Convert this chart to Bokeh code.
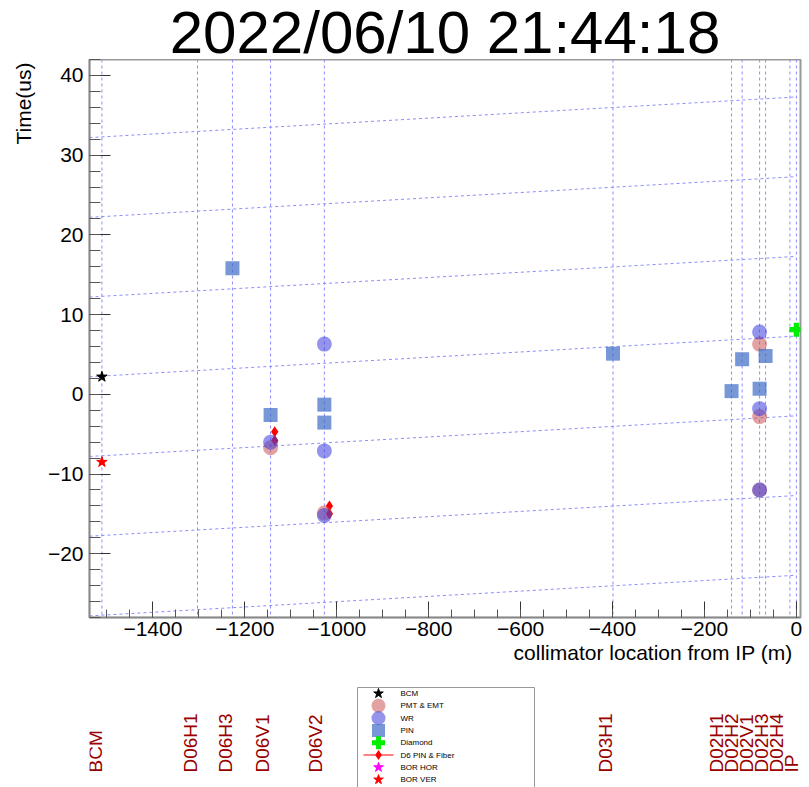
import numpy as np
from bokeh.plotting import figure
from bokeh.models import Range1d, Span, SingleIntervalTicker, Title, LabelSet, ColumnDataSource
from bokeh.layouts import column
from bokeh.embed import file_html
from bokeh.resources import INLINE
from bokeh.core.properties import value

FONT = "Liberation Sans"
title_text = "2022/06/10 21:44:18"
x_title = "collimator location from IP (m)"
y_title = "Time(us)"

# collimator positions (m) and their labels
coll_names = ["BCM", "D06H1", "D06H3", "D06V1", "D06V2", "D03H1",
              "D02H1", "D02H2", "D02V1", "D02H3", "D02H4", "IP"]
coll_x = [-1511, -1303, -1227, -1144, -1027, -399, -141, -118, -80, -67, -14, 0]
# where the (spread-out) names are written along x
label_x = [-1525, -1318, -1242, -1162, -1046, -415, -174, -141, -108, -76, -43, -11]

# series
bcm_x = [-1511]
bcm_y = [2.2]
pmt_x = [-1144, -1027, -80, -80, -80]
pmt_y = [-6.7, -14.9, 6.3, -2.8, -12.0]
wr_x = [-1144, -1027, -1027, -1027, -80, -80, -80]
wr_y = [-6.0, 6.3, -7.1, -15.2, 7.8, -1.8, -12.0]
pin_x = [-1227, -1144, -1027, -1027, -399, -141, -118, -80, -67]
pin_y = [15.8, -2.6, -1.3, -3.55, 5.1, 0.4, 4.4, 0.7, 4.8]
dia_x = [0]
dia_y = [8.1]
d6_x = [-1135, -1135, -1016, -1016]
d6_y = [-4.7, -5.8, -14.0, -15.0]
borh_x = []
borh_y = []
borv_x = [-1511]
borv_y = [-8.5]

legend_names = ["BCM", "PMT & EMT", "WR", "PIN", "Diamond", "D6 PIN & Fiber", "BOR HOR", "BOR VER"]

# slanted guide lines: value at left edge, rising towards x = 0
guide_left = [32.2, 22.2, 12.2, 2.2, -7.8, -17.8, -27.8]
guide_rise = 5.1

x_ticks = [-1400, -1200, -1000, -800, -600, -400, -200, 0]
x_tick_labels = ["\u22121400", "\u22121200", "\u22121000", "\u2212800", "\u2212600", "\u2212400", "\u2212200", "0"]
y_ticks = [-20, -10, 0, 10, 20, 30, 40]
y_tick_labels = ["\u221220", "\u221210", "0", "10", "20", "30", "40"]

X0, X1 = -1538, 9
Y0, Y1 = -28, 42

styles = {
    "BCM": dict(marker="star", color="black", alpha=1.0, size=11),
    "PMT & EMT": dict(marker="circle", color="#c84646", alpha=0.5, size=15),
    "WR": dict(marker="circle", color="#3c3cdc", alpha=0.55, size=15),
    "PIN": dict(marker="square", color="#3d6bc4", alpha=0.7, size=14),
    "Diamond": dict(marker="plus", color="#00ee00", alpha=1.0, size=14),
    "D6 PIN & Fiber": dict(marker="diamond", color="#ff0000", alpha=1.0, size=11),
    "BOR HOR": dict(marker="star", color="#ff00ff", alpha=1.0, size=11),
    "BOR VER": dict(marker="star", color="#ff0000", alpha=1.0, size=11),
}
series = {
    "BCM": (bcm_x, bcm_y),
    "PMT & EMT": (pmt_x, pmt_y),
    "WR": (wr_x, wr_y),
    "PIN": (pin_x, pin_y),
    "Diamond": (dia_x, dia_y),
    "D6 PIN & Fiber": (d6_x, d6_y),
    "BOR HOR": (borh_x, borh_y),
    "BOR VER": (borv_x, borv_y),
}
draw_order = ["D6 PIN & Fiber", "PMT & EMT", "WR", "PIN", "Diamond", "BCM", "BOR HOR", "BOR VER"]

# ---------- layout constants (pixels) ----------
W = 809
LB, RB = 89, 9                 # frames span x 89..800
FRAME_W = W - LB - RB
H_HEAD = 59
H_MAIN = 558 + 55
H_BOT = 787 - H_HEAD - H_MAIN
GRID_COL = "#8c8cff"

# ---------- header (title) ----------
h = figure(width=W, height=H_HEAD, x_range=Range1d(0, 1), y_range=Range1d(0, H_HEAD),
           min_border_left=LB, min_border_right=RB, min_border_top=0, min_border_bottom=0,
           toolbar_location=None, output_backend="svg")
h.axis.visible = False
h.grid.visible = False
h.outline_line_color = None
h.text(x=[0.5], y=[H_HEAD - 32], text=[title_text], text_align="center", text_baseline="middle",
       text_font=value(FONT), text_font_size="60px", text_color="black", text_line_height=0.9)

# ---------- main plot ----------
p = figure(width=W, height=H_MAIN, x_range=Range1d(X0, X1), y_range=Range1d(Y0, Y1),
           min_border_left=LB, min_border_right=RB, min_border_top=0, min_border_bottom=55,
           toolbar_location=None, output_backend="svg")
p.grid.visible = False
p.outline_line_color = "#999999"
p.outline_line_width = 2

# guides
p.segment(x0=[X0] * len(guide_left), y0=guide_left, x1=[0] * len(guide_left),
          y1=[g + guide_rise for g in guide_left], line_color=GRID_COL, line_dash="3 3", line_width=1)
for cx in coll_x:
    p.add_layout(Span(location=cx, dimension="height", line_color=GRID_COL, line_dash="3 3",
                      line_width=1, level="underlay"))

for name in draw_order:
    xs, ys = series[name]
    st = styles[name]
    p.scatter(x=xs, y=ys, marker=st["marker"], size=st["size"], fill_color=st["color"],
              fill_alpha=st["alpha"], line_color=None if st["marker"] != "star" else st["color"],
              line_alpha=st["alpha"])

p.xaxis.ticker = SingleIntervalTicker(interval=200, num_minor_ticks=4)
p.yaxis.ticker = SingleIntervalTicker(interval=10, num_minor_ticks=5)
p.xaxis.major_label_overrides = {t: l for t, l in zip(x_ticks, x_tick_labels)}
p.yaxis.major_label_overrides = {t: l for t, l in zip(y_ticks, y_tick_labels)}
for ax in (p.xaxis[0], p.yaxis[0]):
    ax.axis_line_color = "#888888"
    ax.axis_line_width = 1.5
    ax.major_tick_line_color = "#333333"
    ax.minor_tick_line_color = "#555555"
    ax.major_tick_out = 0
    ax.minor_tick_out = 0
    ax.major_label_text_font = FONT
    ax.major_label_text_font_size = "21px"
    ax.major_label_text_color = "black"
p.xaxis.major_tick_in = 16
p.xaxis.minor_tick_in = 8
p.yaxis.major_tick_in = 21
p.yaxis.minor_tick_in = 11
p.xaxis.major_label_standoff = 4
p.yaxis.major_label_standoff = 6

p.add_layout(Title(text=x_title, align="right", standoff=0, offset=8,
                   text_font=FONT, text_font_size="21px", text_font_style="normal",
                   text_color="black"), "below")
p.add_layout(Title(text=y_title, align="right", standoff=19, offset=3,
                   text_font=FONT, text_font_size="21px", text_font_style="normal",
                   text_color="black"), "left")

# ---------- bottom: collimator names + legend ----------
b = figure(width=W, height=H_BOT, x_range=p.x_range, y_range=Range1d(0, H_BOT),
           min_border_left=LB, min_border_right=RB, min_border_top=0, min_border_bottom=0,
           toolbar_location=None, output_backend="svg")
b.axis.visible = False
b.grid.visible = False
b.outline_line_color = None
b.extra_x_ranges = {"pix": Range1d(0, FRAME_W)}

name_src = ColumnDataSource(dict(x=label_x, y=[15] * len(label_x), text=coll_names))
b.add_layout(LabelSet(x="x", y="y", text="text", source=name_src, angle=np.pi / 2,
                      text_align="left", text_baseline="middle", text_font=value(FONT),
                      text_font_size="19px", text_color="#990000"))

# legend box (cut by the bottom edge, as in the original)
b.quad(left=[268], right=[445], top=[100], bottom=[-20], x_range_name="pix",
       fill_color="white", line_color="#999999", line_width=1)
row_y = [94 - 12.3 * i for i in range(len(legend_names))]
for name, yy in zip(legend_names, row_y):
    st = styles[name]
    if name == "D6 PIN & Fiber":
        b.segment(x0=[274], y0=[yy], x1=[304], y1=[yy], x_range_name="pix",
                  line_color="#ff0000", line_width=1)
    b.scatter(x=[289], y=[yy], x_range_name="pix", marker=st["marker"], size=st["size"] - 1,
              fill_color=st["color"], fill_alpha=st["alpha"],
              line_color=None if st["marker"] != "star" else st["color"], line_alpha=st["alpha"])
b.text(x=[311] * len(legend_names), y=row_y, text=legend_names, x_range_name="pix",
       text_align="left", text_baseline="middle", text_font=value(FONT),
       text_font_size="8px", text_color="black")

layout = column(h, p, b, spacing=0)
open("out.html", "w").write(file_html(layout, INLINE))
